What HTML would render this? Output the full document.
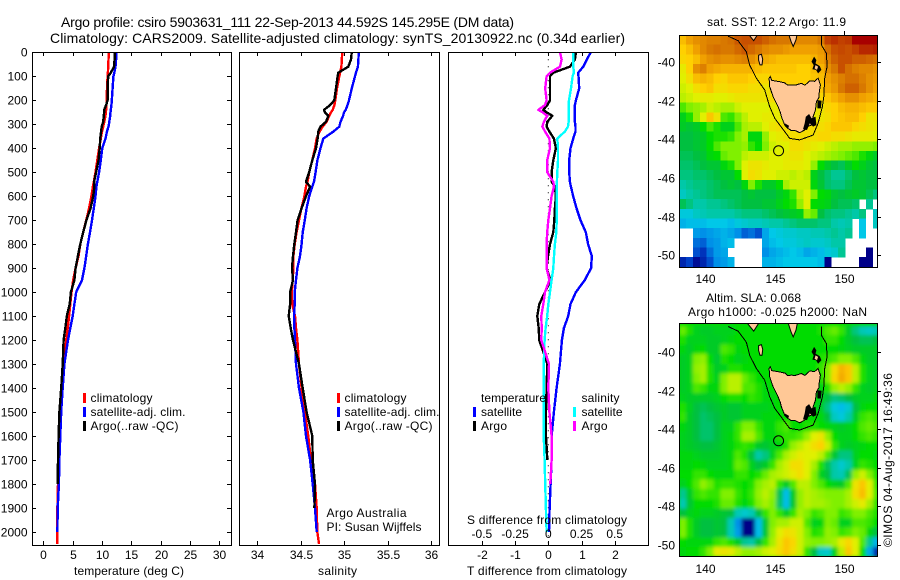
<!DOCTYPE html>
<html lang="en">
<head>
<meta charset="utf-8">
<title>Argo profile 5903631_111</title>
<style>
html,body{margin:0;padding:0;background:#fff;width:900px;height:580px;overflow:hidden}
svg{display:block}
text{font-family:"Liberation Sans",sans-serif;font-size:12px;fill:#000}
.t14{font-size:14px}
</style>
</head>
<body>
<svg id="fig" xmlns="http://www.w3.org/2000/svg" width="900" height="580" viewBox="0 0 900 580">
<defs>
<clipPath id="clipP1"><rect x="32" y="52" width="199" height="493"/></clipPath>
<clipPath id="clipP2"><rect x="239" y="52" width="200" height="493"/></clipPath>
<clipPath id="clipP3"><rect x="448" y="52" width="200" height="493"/></clipPath>
<clipPath id="clipM1"><rect x="679" y="35" width="198" height="232"/></clipPath>
<clipPath id="clipM2"><rect x="679" y="323" width="198" height="233"/></clipPath>
<filter id="smooth" filterUnits="userSpaceOnUse" x="679" y="323" width="198" height="233">
<feGaussianBlur stdDeviation="1.8" edgeMode="duplicate"/>
</filter>
</defs>

<text class="t14" x="61" y="27" textLength="453">Argo profile: csiro 5903631_111 22-Sep-2013 44.592S 145.295E (DM data)</text>
<text class="t14" x="50" y="43" textLength="575">Climatology: CARS2009. Satellite-adjusted climatology: synTS_20130922.nc (0.34d earlier)</text>

<g id="p1marks" clip-path="url(#clipP1)"></g>
<g id="p2marks" clip-path="url(#clipP2)"></g>
<g id="p3marks" clip-path="url(#clipP3)"></g>

<rect x="32.5" y="52.5" width="199" height="493" fill="none" stroke="#000"/>
<rect x="239.5" y="52.5" width="200" height="493" fill="none" stroke="#000"/>
<rect x="448.5" y="52.5" width="200" height="493" fill="none" stroke="#000"/>
<g id="axes"></g>

<text x="74" y="575" textLength="110">temperature (deg C)</text>
<text x="318" y="575" textLength="39">salinity</text>
<text x="467" y="575" textLength="160">T difference from climatology</text>
<text x="467" y="524" textLength="160">S difference from climatology</text>

<g>
<rect x="83" y="393" width="3" height="10" fill="#f00"/>
<rect x="83" y="407" width="3" height="10" fill="#00f"/>
<rect x="83" y="421" width="3" height="10" fill="#000"/>
<text x="90.5" y="402" textLength="62">climatology</text>
<text x="90.5" y="416" textLength="95">satellite-adj. clim.</text>
<text x="90.5" y="430" textLength="88">Argo(..raw -QC)</text>
</g>
<g>
<rect x="337" y="393" width="3" height="10" fill="#f00"/>
<rect x="337" y="407" width="3" height="10" fill="#00f"/>
<rect x="337" y="421" width="3" height="10" fill="#000"/>
<text x="344.5" y="402" textLength="62">climatology</text>
<text x="344.5" y="416" textLength="95">satellite-adj. clim.</text>
<text x="344.5" y="430" textLength="88">Argo(..raw -QC)</text>
</g>
<text x="326.5" y="517" textLength="80">Argo Australia</text>
<text x="326.5" y="531" textLength="95">PI: Susan Wijffels</text>
<g>
<text x="481" y="402" textLength="65">temperature</text>
<text x="581.5" y="402" textLength="38">salinity</text>
<rect x="473" y="407" width="3" height="10" fill="#00f"/>
<rect x="473" y="421" width="3" height="10" fill="#000"/>
<rect x="573" y="407" width="3" height="10" fill="#0ff"/>
<rect x="573" y="421" width="3" height="10" fill="#f0f"/>
<text x="481" y="416" textLength="41">satellite</text>
<text x="481" y="430" textLength="26">Argo</text>
<text x="581.5" y="416" textLength="41">satellite</text>
<text x="581.5" y="430" textLength="26">Argo</text>
</g>

<text x="707" y="26" textLength="139">sat. SST: 12.2 Argo: 11.9</text>
<g id="map1" clip-path="url(#clipM1)"></g>
<rect x="679.5" y="35.5" width="198" height="232" fill="none" stroke="#000"/>

<text x="706" y="302" textLength="95">Altim. SLA: 0.068</text>
<text x="688" y="316" textLength="179">Argo h1000: -0.025 h2000: NaN</text>
<g id="map2" clip-path="url(#clipM2)"></g>
<rect x="679.5" y="323.5" width="198" height="233" fill="none" stroke="#000"/>

<text transform="translate(892,547) rotate(-90)" textLength="174">©IMOS 04-Aug-2017 16:49:36</text>
</svg>

<script>
// ---------- profile data ----------
const depths = [0,30,60,85,100,150,200,220,240,250,265,290,310,330,360,400,450,500,540,560,600,650,700,750,800,850,900,950,1000,1050,1100,1150,1200,1300,1400,1500,1600,1700,1800,1900,2000,2050];
const tempClim = [11.2,11.1,11.05,11,10.95,10.85,10.8,10.75,10.7,10.65,10.6,10.4,10.2,10,9.8,9.5,9.2,8.9,8.6,8.45,8.2,7.8,7.3,6.8,6.3,6,5.5,5.1,4.8,4.6,4.4,4.15,3.9,3.45,3.05,2.85,2.7,2.6,2.5,2.4,2.4,2.4];
const tempSat = [12.45,12.4,12.3,12.1,11.95,11.8,11.67,11.6,11.5,11.45,11.4,11.25,11.1,10.85,10.6,10.05,9.8,9.5,9.2,9.05,8.9,8.6,8.3,7.95,7.6,7.3,7,6.6,5.6,5.3,5,4.6,4.2,3.6,3.3,3.05,2.9,2.75,2.65,2.45,2.4,null];
const tempArgo = [12.2,12.15,12.05,11.5,11.05,10.95,10.95,10.7,10.35,10.35,10.3,10.2,9.95,9.85,9.7,9.6,9.4,9,8.65,8.7,8.5,8.05,7.35,6.8,6.3,5.9,5.5,5.3,4.7,4.5,4,3.75,3.45,3.3,3.05,2.75,2.6,2.5,2.45,null,null,null];
const salClim = [34.98,34.975,34.97,34.955,34.946,34.92,34.9,34.89,34.87,34.85,34.83,34.8,34.755,34.72,34.685,34.667,34.636,34.6,34.58,34.563,34.545,34.51,34.483,34.455,34.433,34.418,34.418,34.41,34.4,34.405,34.437,34.448,34.464,34.483,34.513,34.55,34.59,34.62,34.667,34.686,34.693,34.713];
const salSat = [35.17,35.165,35.16,35.138,35.126,35.09,35.057,35.04,35.02,35,34.99,34.96,34.946,34.88,34.762,34.73,34.694,34.674,34.655,34.636,34.6,34.57,34.55,34.525,34.513,34.494,34.464,34.448,34.433,34.433,34.425,34.43,34.437,34.448,34.483,34.533,34.563,34.61,34.64,34.667,34.686,null];
const salArgo = [35.088,35.08,35.05,34.935,34.927,34.908,34.889,34.84,34.77,34.78,34.82,34.793,34.73,34.705,34.697,34.678,34.636,34.6,34.563,34.61,34.563,34.513,34.467,34.448,34.429,34.414,34.402,34.414,34.38,34.38,34.364,34.387,34.414,34.483,34.525,34.57,34.636,34.64,34.667,34.66,null,null];
const diffTempSat = [1.28,1.16,1.05,0.9,0.91,0.93,0.83,0.8,0.8,0.8,0.8,0.8,0.82,0.82,0.75,0.67,0.63,0.63,0.65,0.68,0.75,0.85,0.97,1.13,1.2,1.31,1.29,1.1,0.83,0.67,0.6,0.47,0.41,0.35,0.25,0.17,0.1,0.1,0.07,0.04,0.02,null];
const diffTempArgo = [0.83,0.8,0.65,0.15,0.05,0.05,0.05,-0.03,-0.15,-0.05,0.12,-0.03,-0.05,0.03,0.17,0.23,0.15,0.1,0.1,0.2,0.23,0.2,0.18,0.15,0.05,-0.01,-0.05,0.07,-0.1,-0.27,-0.33,-0.29,-0.27,-0.03,-0.05,-0.07,-0.07,-0.03,null,null,null,null];
const diffSalSat = [0.188,0.188,0.188,0.193,0.183,0.171,0.156,0.153,0.153,0.153,0.153,0.153,0.148,0.126,0.068,0.073,0.073,0.068,0.065,0.065,0.063,0.063,0.063,0.06,0.05,0.043,0.038,0.025,0.013,0,-0.008,-0.02,-0.028,-0.035,-0.035,-0.035,-0.035,-0.028,-0.023,-0.018,-0.013,null];
const diffSalArgo = [0.088,0.1,0.088,0.013,-0.013,-0.023,-0.013,-0.025,-0.075,-0.043,-0.008,-0.033,-0.045,-0.025,0.008,0.013,-0.008,-0.008,0.038,0.043,0.025,0.013,0,-0.008,-0.013,-0.013,-0.013,0.008,-0.025,-0.038,-0.053,-0.05,-0.053,0.005,0,0.008,0.025,0.025,0.015,null,null,null];
const zeroLineDepths = [0,2056];

// ---------- tick labels ----------
const depthTicks = [0,100,200,300,400,500,600,700,800,900,1000,1100,1200,1300,1400,1500,1600,1700,1800,1900,2000];
const tempTicks = [0,5,10,15,20,25,30];
const salTicks = ["34","34.5","35","35.5","36"];
const diffTempTicks = [-2,-1,0,1,2];
const diffSalTicks = ["-0.5","-0.25","0","0.25","0.5"];
const lonTicks = [140,145,150];
const latTicks = [-40,-42,-44,-46,-48,-50];

// ---------- map data (0.5 degree cells, rows north to south, null = no data) ----------
const sstRows = [
[12.7,13,13.2,13.3,13.4,13.4,13.5,13.6,13.9,14,14,14,13.8,13.6,13.5,13.5,13.4,13.3,13.3,13.3,13.5,14.2,14.4,14.2,14.3,15,15,15,15],
[12.5,12.7,13,13.3,13.5,13.6,13.5,13.5,13.7,13.9,13.7,13.5,13.3,13.2,13.2,13.1,13,13,13,13,13.1,13.6,14,14.1,14,14.2,14.5,14.5,14.6],
[12.4,12.5,12.7,13,13.2,13.3,13.2,13.2,13.3,13.4,13.2,13,12.9,12.8,12.7,12.7,12.7,12.7,12.7,12.8,13,13.4,13.8,14,14,13.8,13.8,13.7,13.6],
[12.1,12.5,13.2,13.4,13,12.9,12.8,12.8,12.8,12.8,12.8,12.7,12.6,12.6,12.6,12.6,12.6,12.5,12.5,12.7,12.8,13.2,13.5,14,13.6,13.4,13.3,13.3,13.2],
[12,12.3,12.7,12.8,12.7,12.5,12.4,12.6,12.6,12.6,12.5,12.4,12.4,12.5,12.5,12.5,12.5,12.5,12.5,12.6,12.7,13,13.2,13.4,13.6,13.6,13.4,13.2,13.1],
[11.9,12,12.3,12.5,12.6,12.3,12.3,12.4,12.4,12.4,12.3,12.3,12.2,12.3,12.4,12.4,12.4,12.4,12.4,12.5,12.6,12.9,13.1,13.5,13.8,13.8,13.5,13.2,13],
[11.8,11.9,12,12.1,12.1,12,12,12.1,12.2,12.2,12.2,12.2,12.2,12.3,12.3,12.3,12.3,12.3,12.3,12.3,12.4,12.6,12.8,13,13.2,13.2,13,12.9,12.8],
[11.3,11.5,11.6,11.7,11.9,11.8,11.7,11.7,11.9,12,12,12,12,12.1,12.1,12.1,12.1,12.1,12.1,12.1,12.2,12.4,12.5,12.7,12.8,12.8,12.7,12.6,12.6],
[10.8,11.1,11.6,12,12.6,12.2,11.3,11.2,11.5,11.8,12,12,12.1,12.1,12.1,12.1,12.1,12.1,12.1,12.1,12.2,12.3,12.5,12.6,12.7,12.7,12.5,12.2,12.2],
[10.7,10.6,10.7,11,11.3,11.1,10.8,10.8,11.3,11.7,11.8,11.8,12,12.2,12.3,12.3,12.3,12.3,12.3,12.3,12.3,12.4,12.6,12.6,12.6,12.4,12.3,12.2,12.1],
[10.5,10.5,10.6,10.7,11,11.1,11.1,11.2,11.5,11.7,10.9,10.9,11.6,12,12.1,12.2,12.3,12.3,12.3,12.3,12.4,12.4,12.3,12.3,12.2,12.1,12.1,12.1,12],
[10.5,10.5,10.6,10.7,11,11.3,11.5,11.5,11.5,11.6,11.2,11,11.5,11.9,12,12,12.3,12.3,12.2,12.1,12,11.9,11.8,11.7,11.7,11.6,11.6,11.6,11.5],
[10.4,10.4,10.5,10.6,10.9,11,11.4,11.5,11.5,11.8,11.9,11.9,11.9,12,12,12.1,12.2,12.2,12,11.9,11.8,11.7,11.6,11.5,11.4,11.3,11.1,10.9,10.7],
[10.3,10.3,10.4,10.5,10.6,10.6,10.9,11.1,11.5,12,12.2,12.2,12.1,12,12,12.1,12.1,12.1,12,11.6,11,10.7,10.5,10.4,10.7,11,10.8,10.6,10.5],
[10.2,10.2,10.3,10.3,10.4,10.5,10.6,10.6,11,12,12.3,12.2,12,12,11.9,11.9,11.8,11.9,11.8,10.8,10.5,10.3,10.1,10.1,10.3,10.5,10.6,10.5,10.5],
[10,10.1,10.2,10.2,10.3,10.4,10.5,10.6,10.5,10.9,11.5,11.1,10.7,10.7,11,11.7,11.9,11.9,11.9,10.9,10.6,10.3,10.2,10.2,10.4,10.6,10.6,10.5,10.5],
[9.8,10,10.1,10.2,10.3,10.4,10.4,10.4,10.4,10.5,10.6,10.5,10.5,10.5,10.7,10.9,11.2,11.8,12,11.5,11,10.9,10.6,10.5,10.6,10.7,10.6,10.4,10.2],
[10.4,10.2,10,10,10.1,10.1,10.2,10.3,10.4,10.5,10.5,10.5,10.6,10.6,10.8,11,11.1,11.6,12,11,10.9,10.8,10.5,10.4,10.4,10.3,null,10.1,null],
[9.6,9.6,9.8,9.9,10,10,10,10,10.1,10.2,10.2,10.2,10.3,10.4,10.5,10.6,10.7,10.8,11.6,11.4,10.5,10.3,10.2,10.2,10.1,10,10.2,null,9.8],
[9.3,9.4,9.4,9.4,9.5,9.5,9.5,9.4,9.6,9.7,9.8,9.8,9.9,10,10,10.1,10.2,10.3,10.3,10.3,10.2,10.2,10,9.9,10,null,9.5,null,9.8],
[null,null,9.1,9,9.1,9.2,9.3,9.2,9,8.7,8.8,8.6,9.2,9.5,9.6,9.7,9.7,9.8,9.8,9.9,9.9,10,10.1,10,10.1,null,9.5,null,null],
[null,null,8.8,8.7,9,9.1,9.3,9.4,null,null,null,null,9.2,9.4,9.5,9.6,9.6,9.7,9.8,9.7,9.7,9.8,10,10,null,null,null,null,null],
[null,null,8.6,8.4,8.8,9.1,9.2,null,null,null,null,null,9,9.2,9.3,9.4,9.5,9.4,9.2,9.3,9.4,9.6,9.7,10.1,null,null,null,7.9,null],
[8.3,8.5,8.1,8.3,8.6,9,9.1,9.3,null,null,null,null,9.3,9.3,9.4,9.5,9.5,9.5,9.5,9.5,9.4,8,null,null,null,null,7.9,7.9,null]
];
const slaRows = [
[.04,.01,-.02,-.03,-.03,-.02,-.02,-.02,0,0,0,0,0,0,0,0,0,0,0,0,.01,.03,.04,.02,-.03,-.08,-.11,-.12,-.11],
[.01,-.02,-.02,-.02,-.03,-.03,-.02,-.01,0,0,0,0,0,0,0,0,0,0,0,0,0,.02,.02,0,-.03,-.05,-.06,-.06,-.05],
[-.01,-.03,-.01,0,-.03,-.03,.03,.02,-.01,0,0,0,0,0,0,0,0,0,0,0,0,0,0,-.01,-.02,-.03,-.03,-.03,-.03],
[-.03,-.02,.05,.06,0,-.04,.01,0,-.02,-.01,0,0,0,0,0,0,0,0,0,0,.01,.02,.03,.05,.05,.03,-.01,-.03,-.03],
[-.03,-.02,.06,.07,.01,-.03,-.02,.01,.01,0,0,0,0,0,0,0,0,0,0,0,.02,.05,.13,.18,.16,.08,.01,-.02,-.03],
[-.03,-.02,.05,.07,.01,-.02,.05,.08,.08,.04,.02,0,0,0,0,0,0,0,0,0,.01,.05,.14,.19,.16,.08,.01,-.02,-.03],
[-.03,-.02,.03,.02,-.01,-.01,.05,.08,.08,.03,.03,.01,-.01,0,0,0,0,0,0,0,-.01,.01,.06,.08,.06,.02,-.02,-.03,-.02],
[-.02,-.03,-.03,-.03,-.03,-.02,0,.01,.01,0,.02,.01,-.01,-.01,0,0,0,0,0,0,-.02,-.05,-.08,-.07,-.05,-.03,-.02,-.02,-.01],
[.01,-.02,-.05,-.06,-.05,-.04,-.03,-.04,-.04,-.02,-.02,-.02,-.02,-.01,0,0,0,0,0,-.01,-.03,-.08,-.14,-.16,-.13,-.05,-.01,0,0],
[.02,-.03,-.05,-.07,-.06,-.05,-.03,-.04,-.04,-.02,-.02,-.02,-.01,-.01,0,0,0,0,0,0,-.01,-.05,-.12,-.14,-.1,-.03,.02,.03,.02],
[-.01,-.03,-.05,-.07,-.07,-.05,-.02,-.02,.02,.05,.05,.02,-.01,-.01,.02,.03,0,0,.01,.01,0,-.01,-.02,-.03,-.02,0,.03,.04,.03],
[-.02,-.03,-.05,-.07,-.07,-.05,-.02,-.01,.02,.07,.07,.03,-.01,-.01,.01,.02,.02,.03,.06,.1,.12,.06,0,-.02,-.02,0,.02,.03,.02],
[-.02,-.03,-.04,-.05,-.05,-.04,-.02,-.01,.01,.02,.01,-.03,-.04,-.02,-.01,.01,.06,.08,.1,.13,.15,.09,.02,-.02,-.03,-.02,-.01,0,0],
[-.01,-.01,-.02,-.03,-.03,-.03,-.02,-.01,.03,.01,-.05,-.1,-.08,-.02,.03,.07,.09,.11,.1,.1,.08,.03,-.04,-.08,-.08,-.02,0,0,-.01],
[-.01,-.01,0,-.01,-.02,-.02,-.02,-.01,.04,.03,-.02,-.05,-.03,.02,.07,.09,.13,.13,.1,.07,.01,-.06,-.1,-.13,-.1,-.02,.02,.01,0],
[0,0,.02,.02,0,-.01,-.01,-.01,.02,.02,0,.01,.04,.07,.08,.09,.11,.13,.1,.05,-.02,-.05,-.1,-.11,-.06,.06,.09,.05,.01],
[-.02,0,.03,.06,.04,.01,.02,.02,.01,0,.01,.05,.07,.08,.02,-.03,.03,.08,.08,.05,.03,0,-.02,-.03,.03,.12,.16,.1,.02],
[-.09,-.03,.02,.03,.02,.02,.05,.05,.02,0,.02,.06,.08,.06,-.06,-.16,-.03,.06,.08,.07,.06,.05,.05,.05,.07,.13,.17,.1,.03],
[-.11,-.04,0,0,0,.01,.04,.04,.01,-.01,.01,.05,.07,.05,-.07,-.16,-.04,.06,.08,.07,.07,.06,.05,.05,.07,.09,.11,.07,.02],
[-.05,-.02,-.01,-.02,-.02,-.03,-.04,-.05,-.11,-.13,-.11,-.05,.02,.05,.02,-.03,.02,.07,.05,.02,.03,.05,.05,.02,.03,.05,.05,.03,.01],
[.05,.01,-.03,-.05,-.05,-.04,-.05,-.11,-.2,-.3,-.3,-.16,-.04,.05,.07,.07,.09,.09,.03,-.02,-.01,.05,.04,-.02,-.02,.03,.03,.02,0],
[.05,.01,-.03,-.05,-.05,-.04,-.05,-.11,-.19,-.3,-.3,-.16,-.04,.06,.1,.13,.12,.09,.05,.01,.02,.06,.05,.02,.03,.05,.04,-.01,-.05],
[0,-.01,-.01,-.01,-.01,.02,.03,.01,-.03,-.09,-.1,-.05,.02,.07,.12,.16,.14,.09,.06,.05,.05,.06,.07,.11,.14,.1,.03,-.09,-.17],
[-.01,0,0,.02,.05,.11,.12,.11,.08,.06,.06,.07,.09,.1,.13,.16,.13,.09,.02,-.05,-.12,-.13,-.02,.08,.16,.1,0,-.18,-.27]
];
const sstStops = [8,8.5,9,9.5,10,10.5,11,11.5,12,12.5,13,13.5,14,15];
const slaStops = [-0.3,-0.25,-0.2,-0.15,-0.1,-0.05,0,0.05,0.1,0.15,0.2,0.25,0.3,0.4];
const rampColors = [[0,0,136],[0,64,200],[0,144,232],[0,200,232],[0,200,168],[0,192,64],[0,220,0],[128,240,0],[224,240,0],[255,208,0],[240,160,0],[216,120,0],[200,80,0],[168,0,0]];

// ---------- geography (lon, lat) ----------
const tasmaniaLon = [144.61,144.7,144.8,145.38,145.75,145.95,146.22,146.5,146.94,147.2,147.55,147.9,148.15,148.32,148.22,148.2,148.03,147.96,147.79,147.67,147.45,147.18,146.82,146.5,146.22,145.95,145.74,145.5,145.42,145.26,144.9,144.65];
const tasmaniaLat = [-40.84,-40.75,-40.95,-41.02,-41.08,-41.2,-41.19,-41.2,-41.1,-41.2,-40.97,-41,-40.84,-41.19,-41.62,-41.85,-42.05,-42.48,-42.83,-43.26,-43.32,-43.52,-43.66,-43.55,-43.55,-43.42,-43.26,-42.83,-42.6,-42.31,-41.79,-41.28];
const kingLon = [143.85,144.05,144.15,144.1,143.95,143.85];
const kingLat = [-39.65,-39.6,-39.85,-40.15,-40.15,-39.9];
const flindersLon = [147.86,148.03,147.96,148.27,148.39,148.15,148,147.74,147.83,147.67];
const flindersLat = [-39.72,-39.9,-40.07,-40.21,-40.41,-40.59,-40.41,-40.38,-40.16,-39.98];
const flindersInnerLon = [147.96,148.15,148.07,147.9];
const flindersInnerLat = [-40.16,-40.24,-40.41,-40.33];
const coastSeLon = [147.26,147.5,147.67,147.96,148.03,147.79,147.55,147.35,147.06,147.18];
const coastSeLat = [-42.83,-42.69,-42.91,-42.83,-43.26,-43.34,-43.17,-43.52,-43.48,-43.17];
const coastSwLon = [145.74,146.05,146.0,145.8];
const coastSwLat = [-43.17,-43.3,-43.43,-43.35];
const coastEastLon = [148.1,148.4,148.35,148.1];
const coastEastLat = [-41.97,-42,-42.4,-42.4];
const otwayLon = [143.05,143.3,143.55,143.85,143.5];
const otwayLat = [-38.5,-38.5,-38.5,-38.5,-38.9];
const promLon = [146,146.65,146.55,146.35,146.2];
const promLat = [-38.5,-38.5,-38.85,-39.2,-38.95];
const isobathLon = [141.64,142.37,142.97,143.21,143.69,144.29,144.65,145.02,145.74,146.1,146.82,147.79,148.15,148.46,148.56,148.63,148.8,148.75,148.39,148.39];
const isobathLat = [-38.66,-38.9,-39.48,-40.16,-40.84,-41.45,-42.31,-42.91,-43.6,-43.95,-44.03,-43.78,-43.17,-42.31,-41.79,-40.84,-40.24,-39.55,-39.12,-38.66];
const profileLon = 145.295;
const profileLat = -44.592;

// ---------- axis functions ----------
const yDepth = d => 52.3 + 0.2398 * d;
const xTemp = t => 43.3 + 5.87 * t;
const xSal = s => 257 + 87 * (s - 34);
const xDiffT = t => 548.3 + 33.2 * t;
const xDiffS = s => 548.3 + 132.8 * s;
const xMap = lon => 705.3 + 13.84 * (lon - 140);
const yMapTop = lat => 62 + 19.33 * (-40 - lat);
const yMapBot = lat => 352.3 + 19.27 * (-40 - lat);
const cellLon0 = 138.1;
const cellLat0 = -38.6;
const cellStep = 0.5;

const NS = 'http://www.w3.org/2000/svg';
function el(tag, attrs, parent) {
  const e = document.createElementNS(NS, tag);
  for (const k in attrs) e.setAttribute(k, attrs[k]);
  parent.appendChild(e);
  return e;
}
function txt(s, x, y, anchor, parent) {
  const e = el('text', { x: x, y: y, 'text-anchor': anchor }, parent);
  e.textContent = s;
  return e;
}
function pathFrom(xs, ys, xf, yf, close) {
  let d = '';
  let pen = false;
  for (let i = 0; i < xs.length; i++) {
    if (xs[i] === null) { pen = false; continue; }
    d += (pen ? 'L' : 'M') + xf(xs[i]).toFixed(1) + ' ' + yf(ys[i]).toFixed(1);
    pen = true;
  }
  return d + (close ? 'Z' : '');
}
function profile(values, xf, color, width, parent, name) {
  const p = el('path', { d: pathFrom(values, depths, xf, yDepth), fill: 'none', stroke: color, 'stroke-width': width, 'shape-rendering': 'crispEdges', 'stroke-linejoin': 'round' }, parent);
  
  
}

// ---------- profile panels ----------
const p1 = document.getElementById('p1marks');
const p2 = document.getElementById('p2marks');
const p3 = document.getElementById('p3marks');
profile(tempClim, xTemp, '#f00', 2.4, p1, 'temperature-climatology-line');
profile(tempSat, xTemp, '#00f', 2.4, p1, 'temperature-satellite-line');
profile(tempArgo, xTemp, '#000', 2.4, p1, 'temperature-argo-line');
profile(salClim, xSal, '#f00', 2.4, p2, 'salinity-climatology-line');
profile(salSat, xSal, '#00f', 2.4, p2, 'salinity-satellite-line');
profile(salArgo, xSal, '#000', 2.4, p2, 'salinity-argo-line');
const zeroLine = el('line', { x1: xDiffT(0), x2: xDiffT(0), y1: yDepth(zeroLineDepths[0]), y2: yDepth(zeroLineDepths[1]), stroke: '#000', 'stroke-width': 1, 'stroke-dasharray': '1 6' }, p3);


profile(diffTempSat, xDiffT, '#00f', 2.4, p3, 'difference-temperature-satellite-line');
profile(diffTempArgo, xDiffT, '#000', 2.4, p3, 'difference-temperature-argo-line');
profile(diffSalSat, xDiffS, '#0ff', 2.4, p3, 'difference-salinity-satellite-line');
profile(diffSalArgo, xDiffS, '#f0f', 2.4, p3, 'difference-salinity-argo-line');

// ---------- axes ----------
const axes = document.getElementById('axes');
function tickLine(x1, y1, x2, y2, parent) {
  const t = el('line', { x1: x1, y1: y1, x2: x2, y2: y2, stroke: '#000', 'shape-rendering': 'crispEdges' }, parent);
  
  
}
function label(s, x, y, anchor, parent) {
  const t = txt(s, x, y, anchor, parent);
  
  
}
depthTicks.forEach(d => {
  const y = Math.round(yDepth(d)) + 0.5;
  if (d > 0) {
    tickLine(32, y, 36, y, axes);
    tickLine(227, y, 232, y, axes);
  }
  label(String(d), 27.5, y + 4, 'end', axes);
});
function xAxis(ticks, xf, left, parent) {
  ticks.forEach(t => {
    const v = Number(t);
    const x = Math.round(xf(v)) + 0.5;
    tickLine(x, 52, x, 56, parent);
    tickLine(x, 541, x, 546, parent);
    label(String(t), x, 559, 'middle', parent);
  });
}
xAxis(tempTicks, xTemp, 32, axes);
xAxis(salTicks, xSal, 239, axes);
xAxis(diffTempTicks, xDiffT, 448, axes);
diffSalTicks.forEach(t => {
  label(t, xDiffS(Number(t)), 538, 'middle', axes);
});

// ---------- maps ----------
function rampColor(v, stops) {
  if (v <= stops[0]) return 'rgb(' + rampColors[0] + ')';
  for (let i = 1; i < stops.length; i++) {
    if (v <= stops[i]) {
      const f = (v - stops[i - 1]) / (stops[i] - stops[i - 1]);
      const a = rampColors[i - 1];
      const b = rampColors[i];
      return 'rgb(' + a.map((c, k) => Math.round(c + f * (b[k] - c))).join(',') + ')';
    }
  }
  return 'rgb(' + rampColors[rampColors.length - 1] + ')';
}
function heatmap(rows, stops, yf, parent) {
  rows.forEach((row, r) => {
    const y0 = yf(cellLat0 - r * cellStep);
    const y1 = yf(cellLat0 - (r + 1) * cellStep);
    row.forEach((v, c) => {
      if (v === null) return;
      const x0 = xMap(cellLon0 + c * cellStep);
      const x1 = xMap(cellLon0 + (c + 1) * cellStep);
      const cell = el('rect', { x: x0.toFixed(1), y: y0.toFixed(1), width: (x1 - x0 + 0.4).toFixed(1), height: (y1 - y0 + 0.4).toFixed(1), fill: rampColor(v, stops), 'shape-rendering': 'crispEdges' }, parent);
      
      
    });
  });
}
function geography(yf, parent) {
  const land = '#ffc896';
  const isoline = el('path', { d: pathFrom(isobathLon, isobathLat, xMap, yf), fill: 'none', stroke: '#000', 'stroke-width': 1, 'shape-rendering': 'crispEdges' }, parent);
  
  
  const tas = el('path', { d: pathFrom(tasmaniaLon, tasmaniaLat, xMap, yf, true), fill: land, stroke: '#000', 'stroke-width': 1, 'shape-rendering': 'crispEdges' }, parent);
  
  
  const king = el('path', { d: pathFrom(kingLon, kingLat, xMap, yf, true), fill: land, stroke: '#000', 'stroke-width': 1 }, parent);
  
  
  const flinders = el('path', { d: pathFrom(flindersLon, flindersLat, xMap, yf, true), fill: '#000', stroke: 'none' }, parent);
  
  
  const flindersInner = el('path', { d: pathFrom(flindersInnerLon, flindersInnerLat, xMap, yf, true), fill: land, stroke: 'none' }, parent);
  
  
  const se = el('path', { d: pathFrom(coastSeLon, coastSeLat, xMap, yf, true), fill: '#000', stroke: 'none' }, parent);
  
  
  const sw = el('path', { d: pathFrom(coastSwLon, coastSwLat, xMap, yf, true), fill: '#000', stroke: 'none' }, parent);
  
  
  const east = el('path', { d: pathFrom(coastEastLon, coastEastLat, xMap, yf, true), fill: '#000', stroke: 'none' }, parent);
  
  
  const otway = el('path', { d: pathFrom(otwayLon, otwayLat, xMap, yf, true), fill: land, stroke: '#000', 'stroke-width': 1 }, parent);
  
  
  const prom = el('path', { d: pathFrom(promLon, promLat, xMap, yf, true), fill: land, stroke: '#000', 'stroke-width': 1 }, parent);
  
  
  const marker = el('circle', { cx: xMap(profileLon), cy: yf(profileLat), r: 5, fill: 'none', stroke: '#000', 'stroke-width': 1 }, parent);
  
  
}
function mapAxes(yf, top, parent) {
  lonTicks.forEach(l => {
    const x = Math.round(xMap(l)) + 0.5;
    tickLine(x, top - 4, x, top, parent);
    label(String(l), x, top === 35 ? 283 : 573, 'middle', parent);
  });
  latTicks.forEach(l => {
    const y = Math.round(yf(l)) + 0.5;
    tickLine(877, y, 881, y, parent);
    label(String(l), 675, y + 4, 'end', parent);
  });
}
const m1 = document.getElementById('map1');
const m2 = document.getElementById('map2');
heatmap(sstRows, sstStops, yMapTop, m1);
geography(yMapTop, m1);
const slaBackground = el('rect', { x: 679, y: 323, width: 198, height: 233, fill: '#00dc00' }, m2);


const slaCells = el('g', { filter: 'url(#smooth)' }, m2);


heatmap(slaRows, slaStops, yMapBot, slaCells);
geography(yMapBot, m2);
mapAxes(yMapTop, 35, axes);
mapAxes(yMapBot, 323, axes);
</script>
</body>
</html>
